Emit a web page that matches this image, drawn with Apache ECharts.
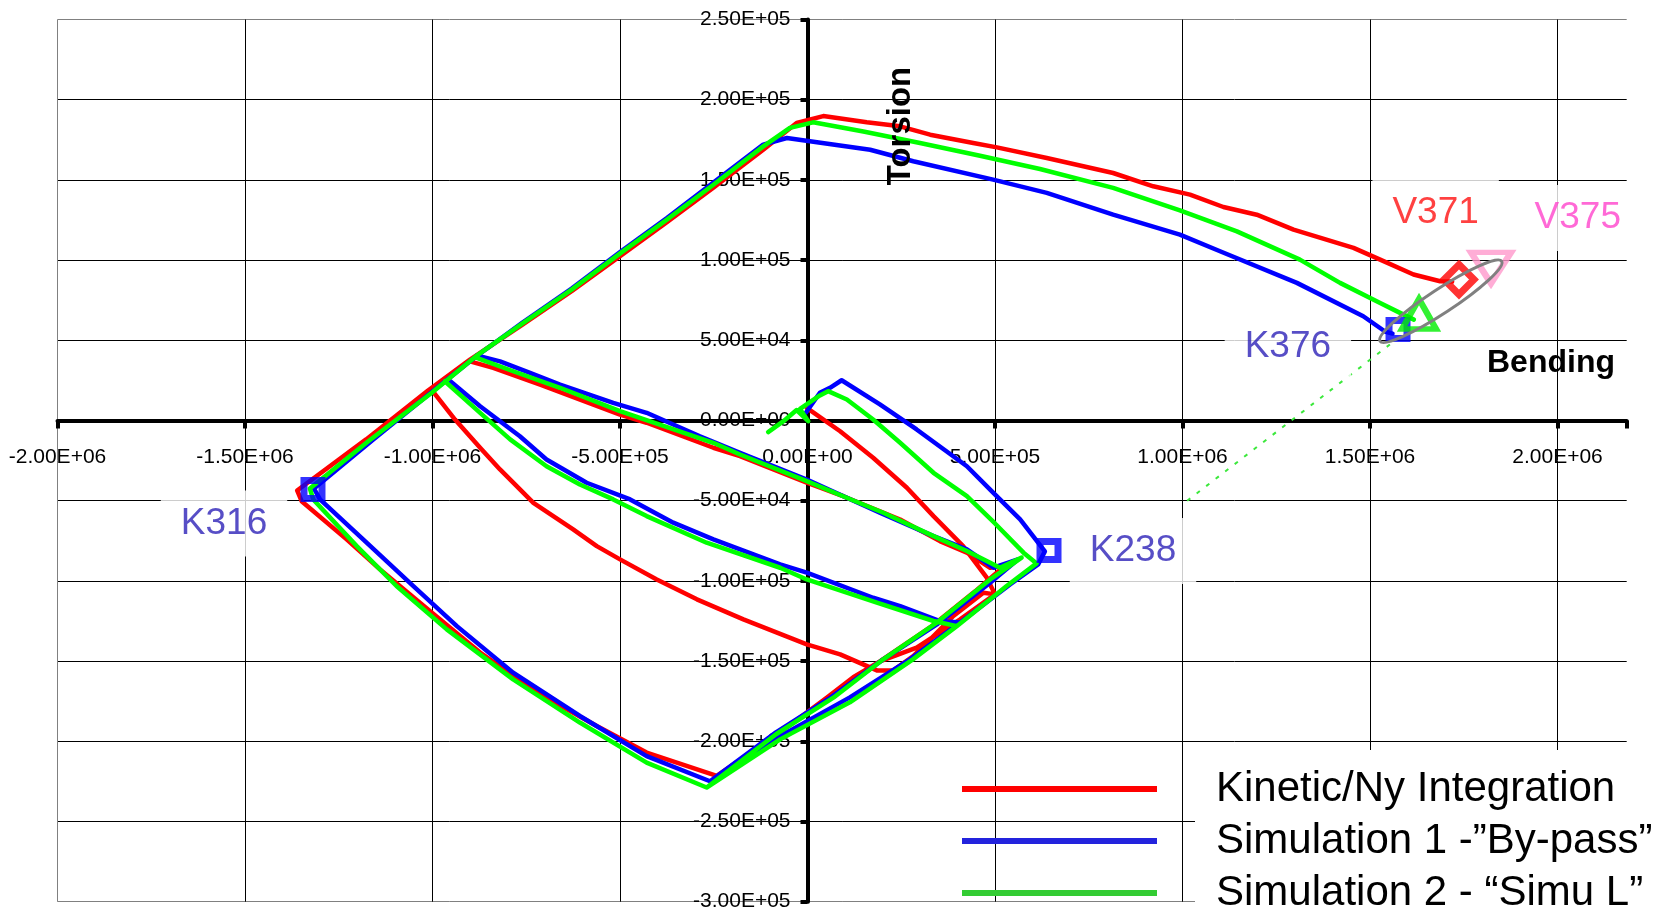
<!DOCTYPE html>
<html>
<head>
<meta charset="utf-8">
<script src="https://cdn.jsdelivr.net/npm/echarts@6.0.0/dist/echarts.min.js"></script>
<style>
  html, body { margin: 0; padding: 0; background: #fff; }
  #chart { width: 1671px; height: 908px; }
</style>
</head>
<body>
<div id="chart"></div>
<script>
// Axis ticks and their printed labels
const xTickValues = [-2000000, -1500000, -1000000, -500000, 0, 500000, 1000000, 1500000, 2000000];
const xTickLabels = ['-2.00E+06', '-1.50E+06', '-1.00E+06', '-5.00E+05', '0.00E+00', '5.00E+05', '1.00E+06', '1.50E+06', '2.00E+06'];
const yTickValues = [-300000, -250000, -200000, -150000, -100000, -50000, 0, 50000, 100000, 150000, 200000, 250000];
const yTickLabels = ['-3.00E+05', '-2.50E+05', '-2.00E+05', '-1.50E+05', '-1.00E+05', '-5.00E+04', '0.00E+00', '5.00E+04', '1.00E+05', '1.50E+05', '2.00E+05', '2.50E+05'];

// Break between separate strokes of one trajectory
const GAP = ['-', '-'];

// [bending, torsion] load paths
const kineticPath = [
  [-2000, 7900], [87000, -6700], [175000, -23200], [265000, -41900], [336000, -59600], [415000, -78300], [478000, -98000], [500000, -108400],
  [407000, -124000], [291000, -141600], [193000, -150200], [122000, -160100], [51000, -172800], [-73000, -194400], [-242000, -221600],
  [-429000, -207000], [-562000, -190500], [-713000, -170700], [-873000, -144700], [-1007000, -118800], [-1140000, -92800], [-1229000, -74100], [-1349000, -50300], [-1361000, -43600],
  [-1177000, -11800], [-1012000, 18700], [-900000, 38000], [-758000, 60100], [-629000, 80700], [-498000, 102800], [-375000, 123700], [-251000, 145200], [-118000, 168800], [-29000, 185500], [42000, 189800],
  [158000, 185900], [247000, 183400], [327000, 178200], [442000, 173000], [505000, 170300], [638000, 163700], [815000, 154300], [922000, 146000], [1020000, 140800], [1109000, 133100], [1198000, 128300], [1296000, 119000], [1456000, 107600], [1527000, 100300], [1616000, 91000], [1687000, 86800], [1719000, 86600],
  GAP,
  [-999000, 18100], [-940000, 600], [-873000, -17000], [-820000, -30500], [-731000, -51300], [-625000, -67900], [-562000, -78300], [-500000, -86600], [-402000, -99100], [-295000, -111500], [-171000, -124000], [-2000, -139600], [87000, -145800], [185000, -155800], [229000, -155800],
  [282000, -146900], [336000, -134400], [389000, -121900], [469000, -107400], [500000, -108400],
  GAP,
  [-900000, 36900], [-838000, 32800], [-713000, 22400], [-500000, 3700], [-429000, -1400], [-251000, -17000], [-180000, -22200], [-2000, -38800], [95000, -47200], [247000, -61700], [353000, -75200], [425000, -82400], [487000, -91800], [527000, -90300],
  [447000, -106500], [327000, -129000], [193000, -150200]
];

const bypassPath = [
  [-4000, 5000], [33000, 17300], [60000, 20400], [91000, 25100], [193000, 10000], [291000, -5600], [425000, -28500], [495000, -45000], [567000, -61700], [633000, -81600],
  [615000, -89700], [540000, -102200], [407000, -125900], [273000, -148900], [113000, -172600], [-73000, -196900], [-260000, -224900],
  [-429000, -209200], [-607000, -184200], [-785000, -157200], [-935000, -128200], [-1051000, -103200], [-1185000, -74100], [-1300000, -49200], [-1316000, -42400],
  [-1158000, -11800], [-1002000, 17800], [-884000, 39900], [-759000, 61200], [-629000, 82200], [-498000, 105300], [-375000, 126200], [-251000, 148300], [-118000, 172000], [-55000, 176100],
  [167000, 168800], [282000, 161600], [495000, 150200], [638000, 141900], [815000, 128300], [993000, 115900], [1100000, 105500], [1305000, 85800], [1482000, 65000], [1540000, 55500], [1560000, 54200],
  GAP,
  [-958000, 25500], [-873000, 8900], [-767000, -9800], [-696000, -24300], [-589000, -38800], [-473000, -49200], [-358000, -63700], [-251000, -74100], [-73000, -89700], [-2000, -94900], [175000, -110500], [247000, -115700], [353000, -125000], [407000, -125900],
  GAP,
  [-882000, 40500], [-820000, 36900], [-740000, 29700], [-660000, 22400], [-518000, 11000], [-429000, 4800], [-287000, -9800], [-180000, -20100], [-2000, -36800], [193000, -57500], [336000, -72100], [425000, -80400], [496000, -91800], [561000, -86600],
  [487000, -101100], [345000, -127100], [202000, -148900], [55000, -173800], [-84000, -194400], [-260000, -224900]
];

const simuLPath = [
  [-105000, -7200], [-65000, -600], [-29000, 6500], [2000, -400], [-20000, 7200], [33000, 15600], [55000, 18300], [105000, 13100], [175000, 600], [247000, -13900], [336000, -32600], [425000, -47200], [500000, -64200], [576000, -82400], [611000, -89100],
  [531000, -103200], [398000, -128200], [281000, -148900], [113000, -175700], [-73000, -198800], [-269000, -228800],
  [-429000, -213300], [-607000, -188300], [-785000, -161400], [-962000, -130200], [-1096000, -103200], [-1202000, -78300], [-1318000, -49200], [-1327000, -42400],
  [-1172000, -13100], [-1002000, 17300], [-884000, 40100], [-758000, 60900], [-629000, 81600], [-498000, 104500], [-375000, 125200], [-251000, 147000], [-118000, 170900], [-47000, 182400], [15000, 185900],
  [149000, 180200], [300000, 173000], [460000, 165100], [620000, 156800], [815000, 145000], [993000, 131000], [1145000, 117900], [1313000, 100300], [1420000, 85800], [1527000, 73300], [1580000, 67100], [1617000, 62900],
  GAP,
  [-967000, 24500], [-873000, 4800], [-793000, -11800], [-696000, -28500], [-607000, -39900], [-518000, -49200], [-429000, -59600], [-269000, -76200], [-73000, -91800], [-2000, -99100], [185000, -113600], [336000, -125000], [398000, -128200],
  GAP,
  [-882000, 39100], [-785000, 30700], [-660000, 20400], [-500000, 5800], [-251000, -13900], [-180000, -21200], [-2000, -37800], [95000, -47200], [202000, -57500], [336000, -72100], [425000, -81400], [487000, -88700], [513000, -91800], [571000, -85500],
  [487000, -99100], [345000, -126000], [202000, -148900], [69000, -172800], [-84000, -195600], [-269000, -228800]
];

// Named load points
const kPoints = [[-1318700, -43000], [644000, -81000], [1574700, 56700]];
const v371Point = [[1737300, 87850]];
const v375Point = [[1822700, 95100]];
const simuLEndPoint = [[1630700, 66400]];

// Label anchors (text centres)
const pointLabelNames = ['K316', 'K238', 'K376', 'V371', 'V375'];
const pointLabelX = [-1556000, 868000, 1281000, 1675000, 2054000];
const pointLabelY = [-64200, -81400, 46100, 129400, 126300];

// Ring around the end points: two ends of its long axis
const endRing = [[1526700, 49400, 1851200, 99250]];
// Dotted guide from the ring
const guidePath = [[1553000, 47400], [1000000, -52300]];

const seriesNames = ['Kinetic/Ny Integration', 'Simulation 1 -\u201dBy-pass\u201d', 'Simulation 2 - \u201cSimu L\u201d'];

const labelColors = { K316: '#2d22b8', K238: '#2d22b8', K376: '#2d22b8', V371: '#ff1111', V375: '#ff44cc' };
const textFont = "'Liberation Sans', Arial, sans-serif";

// Plot frame (pixels) and the offsets that put both axes through the origin
const GRID = { left: 57.5, right: 44.3, top: 19.5, bottom: 6.3 };
const PLOT_W = 1671 - GRID.left - GRID.right;
const PLOT_H = 908 - GRID.top - GRID.bottom;
const X_MIN = -2000000, X_MAX = 2184500, Y_MIN = -300000, Y_MAX = 250000;
const xAxisShift = -PLOT_H * (0 - Y_MIN) / (Y_MAX - Y_MIN);
const yAxisShift = -PLOT_W * (0 - X_MIN) / (X_MAX - X_MIN);

function tickText(values, labels) {
  return function (v) {
    const i = values.findIndex(t => Math.abs(t - v) < 1);
    return i >= 0 ? labels[i] : '';
  };
}

const chart = echarts.init(document.getElementById('chart'), null, { renderer: 'canvas' });

const lineSeries = (name, data, color) => ({
  type: 'line',
  name: name,
  data: data,
  symbol: 'none',
  showSymbol: false,
  connectNulls: false,
  clip: false,
  lineStyle: { color: color, width: 4.5, cap: 'round', join: 'round' },
  itemStyle: { color: color },
  z: 2,
  silent: true
});

const xSplitColors = xTickValues.map((v, i) => i === 0 ? '#808080' : '#000');
xSplitColors.push('rgba(0,0,0,0)');
const ySplitColors = yTickValues.map((v, i) => (i === 0 || i === yTickValues.length - 1) ? '#808080' : '#000');

const option = {
  animation: false,
  backgroundColor: '#fff',
  grid: { left: GRID.left, right: GRID.right, top: GRID.top, bottom: GRID.bottom, containLabel: false, outerBoundsMode: 'none' },
  xAxis: {
    type: 'value',
    min: X_MIN,
    max: X_MAX,
    interval: 500000,
    position: 'bottom',
    offset: xAxisShift,
    axisLine: { onZero: false, lineStyle: { color: '#000', width: 4 } },
    axisTick: { show: true, inside: false, length: 8, lineStyle: { color: '#000', width: 4 } },
    axisLabel: { margin: 26, color: '#000', fontFamily: textFont, fontSize: 21, formatter: tickText(xTickValues, xTickLabels) },
    splitLine: { show: true, lineStyle: { color: xSplitColors, width: 1 } }
  },
  yAxis: {
    type: 'value',
    min: Y_MIN,
    max: Y_MAX,
    interval: 50000,
    position: 'left',
    offset: yAxisShift,
    axisLine: { onZero: false, lineStyle: { color: '#000', width: 4 } },
    axisTick: { show: true, inside: false, length: 7, lineStyle: { color: '#000', width: 4 } },
    axisLabel: { margin: 17, color: '#000', fontFamily: textFont, fontSize: 21, padding: [0, 0, 6, 0], formatter: tickText(yTickValues, yTickLabels) },
    splitLine: { show: true, lineStyle: { color: ySplitColors, width: 1 } }
  },
  legend: {
    orient: 'vertical',
    left: 962,
    top: 768,
    height: 200,
    padding: 0,
    itemWidth: 195,
    itemHeight: 6,
    itemGap: 10,
    icon: 'rect',
    selectedMode: false,
    textStyle: { fontFamily: textFont, fontSize: 42, color: '#000', padding: [0, 0, 0, 54] },
    data: [
      { name: seriesNames[0], itemStyle: { color: '#ff0000' } },
      { name: seriesNames[1], itemStyle: { color: '#2323dd' } },
      { name: seriesNames[2], itemStyle: { color: '#33cc33' } }
    ],
    z: 6
  },
  graphic: {
    elements: [
      { type: 'rect', silent: true, z: 1, shape: { x: 1195, y: 750, width: 476, height: 158 }, style: { fill: '#fff' } },
      { type: 'text', silent: true, z: 3, x: 901, y: 126, rotation: Math.PI / 2,
        style: { text: 'Torsion', font: 'bold 33px ' + textFont, fill: '#000', align: 'center', verticalAlign: 'middle', textAlign: 'center', textVerticalAlign: 'middle' } },
      { type: 'text', silent: true, z: 3, x: 1487, y: 363,
        style: { text: 'Bending', font: 'bold 32px ' + textFont, fill: '#000', align: 'left', verticalAlign: 'middle', textAlign: 'left', textVerticalAlign: 'middle' } }
    ]
  },
  series: [
    {
      type: 'line', data: guidePath, symbol: 'none', silent: true, z: 2,
      lineStyle: { color: '#3ce83c', width: 2, type: [4, 8] }
    },
    lineSeries(seriesNames[0], kineticPath, '#ff0000'),
    lineSeries(seriesNames[1], bypassPath, '#0000ff'),
    lineSeries(seriesNames[2], simuLPath, '#00ff00'),
    {
      type: 'scatter', data: kPoints, symbol: 'rect', symbolSize: 18, silent: true, z: 5,
      itemStyle: { color: 'rgba(0,0,0,0)', borderColor: '#0000ff', borderWidth: 7 }
    },
    {
      type: 'scatter', data: v371Point, symbol: 'diamond', symbolSize: [30, 30], silent: true, z: 5,
      itemStyle: { color: 'rgba(0,0,0,0)', borderColor: '#ff0000', borderWidth: 7 }
    },
    {
      type: 'scatter', data: simuLEndPoint, symbol: 'triangle', symbolSize: [34, 30], silent: true, z: 5,
      itemStyle: { color: 'rgba(0,0,0,0)', borderColor: '#00ee00', borderWidth: 6 }
    },
    {
      type: 'scatter', data: v375Point, symbol: 'triangle', symbolRotate: 180, symbolSize: [40, 31], silent: true, z: 4,
      itemStyle: { color: 'rgba(0,0,0,0)', borderColor: '#ff99cc', borderWidth: 6 }
    },
    {
      type: 'custom', data: endRing, silent: true, z: 6,
      renderItem: function (params, api) {
        const p1 = api.coord([api.value(0), api.value(1)]);
        const p2 = api.coord([api.value(2), api.value(3)]);
        const dx = p2[0] - p1[0], dy = p2[1] - p1[1];
        return {
          type: 'ellipse',
          x: (p1[0] + p2[0]) / 2,
          y: (p1[1] + p2[1]) / 2,
          rotation: -Math.atan2(dy, dx),
          shape: { cx: 0, cy: 0, rx: Math.hypot(dx, dy) / 2, ry: 12 },
          style: { fill: 'none', stroke: '#808080', lineWidth: 3 }
        };
      }
    },
    {
      type: 'scatter', silent: true, z: 3, symbolSize: 0.1,
      itemStyle: { color: 'rgba(0,0,0,0)' },
      data: pointLabelNames.map((n, i) => ({
        name: n,
        value: [pointLabelX[i], pointLabelY[i]],
        label: { color: labelColors[n] }
      })),
      label: {
        show: true, position: 'inside', formatter: p => p.name,
        fontFamily: textFont, fontSize: 37, lineHeight: 42,
        backgroundColor: '#fff', padding: [12, 20]
      }
    }
  ]
};

chart.setOption(option);
</script>
</body>
</html>
